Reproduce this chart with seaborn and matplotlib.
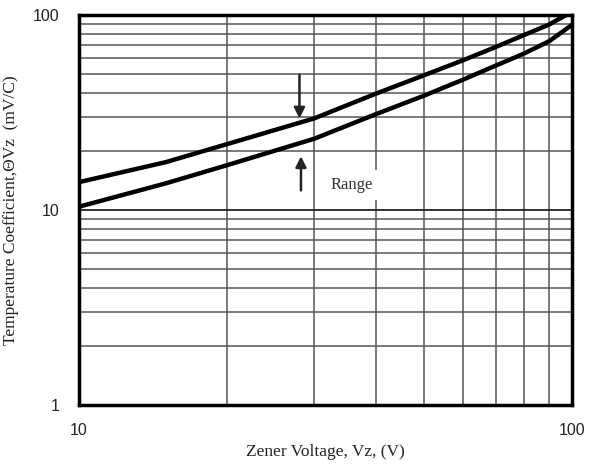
import numpy as np
import pandas as pd
import matplotlib
matplotlib.use("Agg")
import matplotlib.pyplot as plt
import seaborn as sns
from matplotlib.ticker import LogLocator, FixedLocator, NullFormatter

# Zener voltage (V) and temperature coefficient bounds (mV/C)
vz = [10, 15, 20, 30, 40, 50, 60, 70, 80, 90, 100]
tc_upper = [13.9, 17.6, 21.8, 29.5, 39.5, 49.0, 58.5, 68.5, 79.0, 89.5, 104.0]
tc_lower = [10.4, 13.7, 17.0, 23.2, 31.0, 38.5, 46.5, 55.0, 63.5, 73.5, 89.0]

df = pd.DataFrame({
    "vz": vz * 2,
    "tc": tc_upper + tc_lower,
    "bound": ["max"] * len(vz) + ["min"] * len(vz),
})

sns.set_style("white")
plt.rcParams["font.family"] = ["Liberation Serif", "DejaVu Serif"]

fig = plt.figure(figsize=(5.95, 4.72), dpi=100)
ax = fig.add_axes([0.1328, 0.1419, 0.8285, 0.8263])

sns.lineplot(data=df, x="vz", y="tc", hue="bound", palette=["black", "black"],
             linewidth=3.2, legend=False, ax=ax, zorder=5)

ax.set_xscale("log")
ax.set_yscale("log")
ax.set_xlim(10, 100)
ax.set_ylim(1, 100)

# grid on every decade subdivision
ax.xaxis.set_major_locator(FixedLocator([10, 100]))
ax.yaxis.set_major_locator(FixedLocator([1, 10, 100]))
ax.xaxis.set_minor_locator(LogLocator(base=10, subs=np.arange(2, 10)))
ax.yaxis.set_minor_locator(LogLocator(base=10, subs=np.arange(2, 10)))
ax.xaxis.set_minor_formatter(NullFormatter())
ax.yaxis.set_minor_formatter(NullFormatter())
ax.set_xticklabels(["10", "100"])
ax.set_yticklabels(["1", "10", "100"])
ax.grid(which="major", color="#222222", linewidth=1.3)
ax.grid(which="minor", color="#555555", linewidth=1.1)
ax.tick_params(which="both", length=0)
ax.tick_params(axis="x", pad=13, labelsize=11.5, labelcolor="#222222")
ax.tick_params(axis="y", pad=14, labelsize=11.5, labelcolor="#222222")
for lbl in ax.get_xticklabels() + ax.get_yticklabels():
    lbl.set_family(["Liberation Sans", "DejaVu Sans"])

for s in ax.spines.values():
    s.set_color("black")
    s.set_linewidth(2.5)
    s.set_visible(True)

# range arrows
ax.annotate("", xy=(28, 28.5), xytext=(28, 51),
            arrowprops=dict(arrowstyle="-|>", color="#222222", lw=1.8, mutation_scale=16),
            zorder=6)
ax.annotate("", xy=(28.2, 19.5), xytext=(28.2, 12.2),
            arrowprops=dict(arrowstyle="-|>", color="#222222", lw=1.8, mutation_scale=16),
            zorder=6)
ax.text(35.8, 13.4, "Range", ha="center", va="center", fontsize=12, color="#333333",
        bbox=dict(facecolor="white", edgecolor="none", pad=5), zorder=4)

ax.set_xlabel("Zener Voltage, Vz, (V)", fontsize=12.5, color="#222222")
ax.set_ylabel("Temperature Coefficient,ΘVz  (mV/C)", fontsize=12.5, color="#222222")
ax.xaxis.set_label_coords(0.5, -0.1)
ax.yaxis.set_label_coords(-0.122, 0.5)

fig.savefig("out.png", dpi=100)
